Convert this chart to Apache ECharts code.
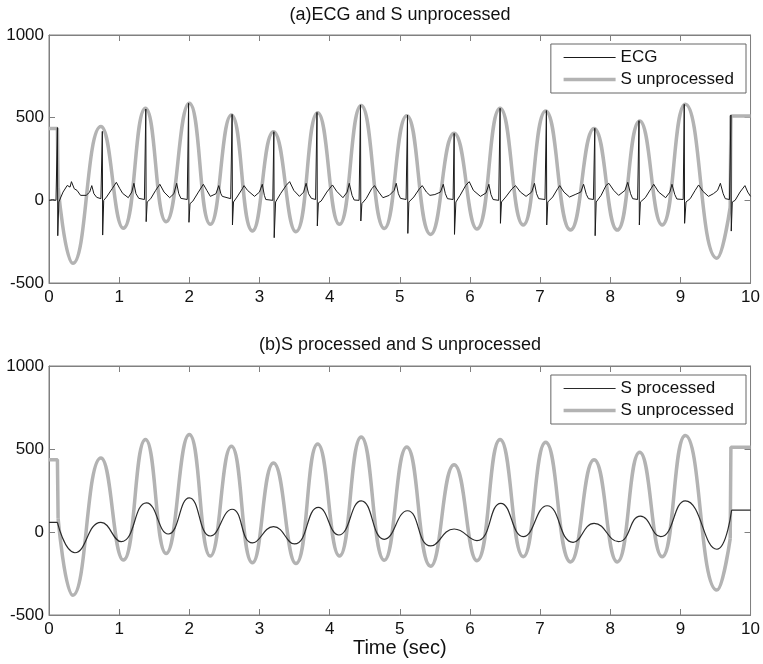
<!DOCTYPE html>
<html>
<head>
<meta charset="utf-8">
<script src="https://cdn.jsdelivr.net/npm/echarts@6/dist/echarts.min.js"></script>
<style>
  html, body { margin: 0; padding: 0; background: #fff; }
  #main { width: 763px; height: 664px; }
</style>
</head>
<body>
<div id="main"></div>
<script>
// S unprocessed: flat start, oscillation (peaks / troughs), flat end
var sUnprocHead = [[0, 435], [0.12, 435], [0.13, 80]];
var sUnproc = [
  [0.13, 80], [0.34, -381], [0.74, 446], [1.06, -169], [1.375, 557], [1.67, -129],
  [2.0, 587], [2.30, -145], [2.60, 516], [2.90, -185], [3.20, 415], [3.52, -190],
  [3.83, 530], [4.14, -145], [4.45, 573], [4.78, -170], [5.10, 512], [5.44, -206],
  [5.775, 405], [6.10, -173], [6.43, 557], [6.76, -149], [7.08, 540], [7.435, -180],
  [7.77, 435], [8.10, -180], [8.42, 480], [8.74, -149], [9.07, 581], [9.52, -350],
  [9.71, -40]
];
var sUnprocTail = [[9.71, -40], [9.72, 510], [10, 510]];

// S processed
var sProcHead = [[0, 58], [0.12, 58]];
var sProc = [
  [0.12, 58], [0.37, -125], [0.74, 58], [1.03, -58], [1.39, 176], [1.70, -12],
  [2.0, 206], [2.30, -24], [2.61, 137], [2.90, -66], [3.20, 32], [3.50, -72],
  [3.84, 148], [4.13, -18], [4.45, 188], [4.78, -44], [5.11, 128], [5.44, -84],
  [5.775, 18], [6.10, -52], [6.44, 173], [6.76, -28], [7.10, 158], [7.47, -62],
  [7.77, 52], [8.12, -58], [8.43, 96], [8.72, -28], [9.07, 188], [9.52, -104],
  [9.73, 132]
];
var sProcTail = [[9.73, 132], [10, 132]];

// ECG
var ecg = [
  [0, 0], [0.05, 5], [0.10, 0], [0.115, 10], [0.12, 440], [0.125, -214], [0.14, -10],
  [0.2, 50], [0.26, 90], [0.3, 80], [0.32, 113], [0.36, 70], [0.4, 60], [0.45, 30], [0.53, 30],
  [0.58, 50], [0.61, 89], [0.64, 40], [0.68, 18], [0.74, 10],
  [0.755, 15], [0.76, 417], [0.765, -210], [0.78, 0], [0.82, 20], [0.9, 70], [0.96, 109],
  [1.01, 70], [1.05, 42], [1.13, 16], [1.18, 50], [1.21, 103], [1.24, 40], [1.28, 12], [1.36, 5],
  [1.375, 10], [1.38, 552], [1.385, -129], [1.40, -10], [1.45, 10], [1.52, 60], [1.58, 97],
  [1.64, 50], [1.72, 16], [1.78, 40], [1.82, 103], [1.85, 40], [1.88, 12], [1.97, 5],
  [1.985, 10], [1.99, 587], [1.995, -133], [2.01, -20], [2.05, -5], [2.13, 50], [2.2, 97],
  [2.25, 60], [2.3, 24], [2.38, 40], [2.42, 89], [2.45, 40], [2.47, 24], [2.59, 10],
  [2.605, 12], [2.61, 520], [2.615, -149], [2.63, -10], [2.68, 20], [2.76, 73], [2.78, 89],
  [2.83, 60], [2.93, 24], [3.0, 50], [3.04, 97], [3.07, 30], [3.09, 5], [3.19, 0],
  [3.2, 5], [3.205, 415], [3.21, -226], [3.23, -10], [3.3, 40], [3.38, 90], [3.43, 113],
  [3.49, 60], [3.57, 24], [3.63, 50], [3.665, 103], [3.7, 40], [3.74, 12], [3.80, 5],
  [3.815, 8], [3.82, 532], [3.825, -155], [3.84, -15], [3.88, -4], [3.96, 50], [4.04, 93],
  [4.1, 55], [4.19, 16], [4.25, 50], [4.28, 103], [4.32, 30], [4.35, 2], [4.42, 0],
  [4.435, 5], [4.44, 577], [4.445, -125], [4.46, -20], [4.52, 10], [4.6, 70], [4.64, 89],
  [4.7, 50], [4.76, 16], [4.85, 30], [4.92, 60], [4.95, 103], [4.98, 40], [5.01, 12], [5.09, 5],
  [5.105, 8], [5.11, 516], [5.115, -200], [5.13, -10], [5.2, 20], [5.28, 70], [5.32, 89],
  [5.38, 50], [5.43, 30], [5.5, 35], [5.58, 50], [5.62, 97], [5.65, 40], [5.68, 10], [5.76, 5],
  [5.77, 8], [5.775, 405], [5.78, -206], [5.80, -10], [5.86, 30], [5.94, 90], [5.99, 113],
  [6.05, 60], [6.15, 24], [6.23, 45], [6.27, 97], [6.3, 35], [6.33, 5], [6.41, 0],
  [6.425, 5], [6.43, 557], [6.435, -139], [6.45, -10], [6.51, 20], [6.6, 70], [6.65, 89],
  [6.72, 50], [6.8, 24], [6.88, 50], [6.92, 103], [6.95, 40], [6.98, 10], [7.07, 5],
  [7.085, 8], [7.09, 543], [7.095, -149], [7.11, -10], [7.18, 20], [7.25, 70], [7.28, 89],
  [7.34, 50], [7.42, 20], [7.5, 35], [7.58, 50], [7.62, 97], [7.66, 35], [7.69, 10], [7.76, 5],
  [7.775, 8], [7.78, 436], [7.785, -214], [7.80, -10], [7.87, 30], [7.94, 90], [7.98, 103],
  [8.05, 60], [8.12, 30], [8.21, 60], [8.25, 109], [8.29, 40], [8.32, 10], [8.39, 5],
  [8.405, 8], [8.41, 482], [8.415, -149], [8.43, -10], [8.5, 16], [8.58, 70], [8.62, 97],
  [8.69, 50], [8.79, 16], [8.85, 50], [8.88, 97], [8.92, 35], [8.95, 8], [9.04, 5],
  [9.05, 8], [9.055, 581], [9.06, -139], [9.08, -10], [9.14, 10], [9.21, 60], [9.26, 93],
  [9.32, 55], [9.4, 24], [9.47, 40], [9.53, 60], [9.57, 103], [9.61, 40], [9.64, 10], [9.70, 5],
  [9.715, 8], [9.72, 516], [9.725, -186], [9.74, -10], [9.78, 0], [9.85, 50], [9.92, 89],
  [9.96, 50], [10, 24]
];

var titles = ['(a)ECG and S unprocessed', '(b)S processed and S unprocessed'];

var chart = echarts.init(document.getElementById('main'));
var font = "'Liberation Sans', Arial, Helvetica, sans-serif";
var frame = '#808080';
var grayC = '#b3b3b3';

function xAx(g, pos, extra) {
  var a = {
    gridIndex: g, type: 'value', position: pos, min: 0, max: 10, interval: 1,
    axisLine: { show: true, onZero: false, lineStyle: { color: frame, width: 1 } },
    axisTick: { show: true, inside: true, length: 6, lineStyle: { color: frame } },
    axisLabel: { show: pos === 'bottom', fontSize: 17, color: '#111', fontFamily: font, margin: 6 },
    splitLine: { show: false }
  };
  return Object.assign(a, extra || {});
}
function yAx(g, pos) {
  return {
    gridIndex: g, type: 'value', position: pos, min: -500, max: 1000, interval: 500,
    axisLine: { show: true, onZero: false, lineStyle: { color: frame, width: 1 } },
    axisTick: { show: true, inside: true, length: 6, lineStyle: { color: frame } },
    axisLabel: { show: pos === 'left', fontSize: 17, color: '#111', fontFamily: font, margin: 5,
      formatter: function (v) { return String(v); } },
    splitLine: { show: false }
  };
}
function line(name, data, xi, color, width, smooth) {
  return {
    name: name, type: 'line', data: data, xAxisIndex: xi, yAxisIndex: xi,
    showSymbol: false, symbol: 'none', smooth: smooth ? 0.5 : false,
    lineStyle: { color: color, width: width }, itemStyle: { color: color },
    silent: true
  };
}
function legend(names, top) {
  return {
    data: names, orient: 'vertical', right: 17, top: top,
    padding: [5, 12, 5, 11], itemWidth: 52, itemHeight: 14, itemGap: 5,
    borderColor: '#666', borderWidth: 1, backgroundColor: '#fff', borderRadius: 0,
    itemStyle: { color: 'rgba(0,0,0,0)', borderWidth: 0, opacity: 0 },
    lineStyle: { width: 'inherit' },
    textStyle: { fontSize: 17, color: '#111', fontFamily: font, lineHeight: 17 }
  };
}

var option = {
  animation: false,
  backgroundColor: '#fff',
  textStyle: { fontFamily: font },
  title: [
    { text: titles[0], left: 400, top: 6, padding: 0, textAlign: 'center',
      textStyle: { fontSize: 18, fontWeight: 'normal', color: '#111', fontFamily: font } },
    { text: titles[1], left: 400, top: 336, padding: 0, textAlign: 'center',
      textStyle: { fontSize: 18, fontWeight: 'normal', color: '#111', fontFamily: font } }
  ],
  legend: [legend(['ECG', 'S unprocessed'], 44), legend(['S processed', 'S unprocessed'], 375)],
  grid: [
    { left: 49, top: 35, width: 703, height: 248, show: true, borderColor: frame, borderWidth: 1 },
    { left: 49, top: 366, width: 703, height: 249, show: true, borderColor: frame, borderWidth: 1 }
  ],
  xAxis: [
    xAx(0, 'bottom'), xAx(0, 'top'),
    xAx(1, 'bottom', { name: 'Time (sec)', nameLocation: 'middle', nameGap: 23,
      nameMoveOverlap: false,
      nameTextStyle: { fontSize: 20, color: '#111', fontFamily: font } }),
    xAx(1, 'top')
  ],
  yAxis: [yAx(0, 'left'), yAx(0, 'right'), yAx(1, 'left'), yAx(1, 'right')],
  series: [
    line('S unprocessed', sUnproc, 0, grayC, 3.5, true),
    line('S unprocessed', sUnprocHead, 0, grayC, 3.5, false),
    line('S unprocessed', sUnprocTail, 0, grayC, 3.5, false),
    line('ECG', ecg, 0, '#1a1a1a', 1, false),
    line('S unprocessed', sUnproc, 2, grayC, 3.5, true),
    line('S unprocessed', sUnprocHead, 2, grayC, 3.5, false),
    line('S unprocessed', sUnprocTail, 2, grayC, 3.5, false),
    line('S processed', sProcHead, 2, '#2a2a2a', 1.2, false),
    line('S processed', sProc, 2, '#2a2a2a', 1.2, true),
    line('S processed', sProcTail, 2, '#2a2a2a', 1.2, false)
  ]
};
chart.setOption(option);
</script>
</body>
</html>
